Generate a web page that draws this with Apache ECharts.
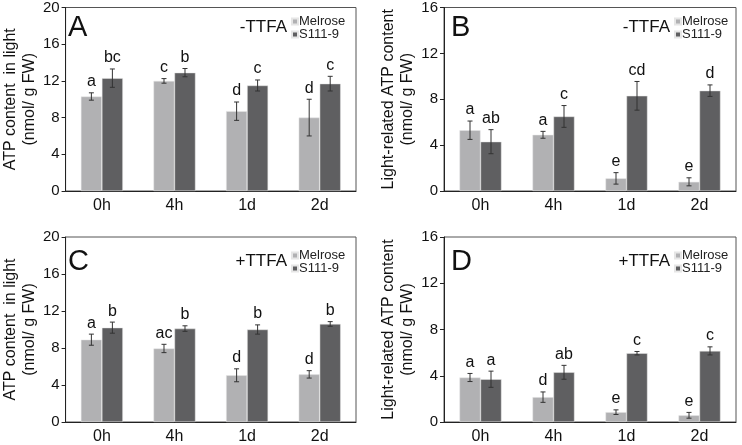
<!DOCTYPE html>
<html>
<head>
<meta charset="utf-8">
<script src="https://cdn.jsdelivr.net/npm/echarts@6/dist/echarts.min.js"></script>
<style>html,body{margin:0;padding:0;background:#fff}#c{width:742px;height:445px}</style>
</head>
<body>
<div id="c"></div>
<script>
const categories = ['0h', '4h', '1d', '2d'];
const seriesNames = ['Melrose', 'S111-9'];

// Panel A: ATP content in light, -TTFA
const aMelrose = [10.3, 12.0, 8.7, 8.0];
const aMelroseErr = [0.4, 0.25, 1.0, 2.0];
const aMelroseLetters = ['a', 'c', 'd', 'd'];
const aS111 = [12.3, 12.9, 11.5, 11.7];
const aS111Err = [1.0, 0.45, 0.6, 0.8];
const aS111Letters = ['bc', 'b', 'c', 'c'];

// Panel B: Light-related ATP content, -TTFA
const bMelrose = [5.3, 4.9, 1.1, 0.8];
const bMelroseErr = [0.8, 0.3, 0.5, 0.35];
const bMelroseLetters = ['a', 'a', 'e', 'e'];
const bS111 = [4.3, 6.5, 8.3, 8.75];
const bS111Err = [1.05, 0.95, 1.25, 0.5];
const bS111Letters = ['ab', 'c', 'cd', 'd'];

// Panel C: ATP content in light, +TTFA
const cMelrose = [8.9, 7.95, 5.05, 5.15];
const cMelroseErr = [0.6, 0.45, 0.7, 0.4];
const cMelroseLetters = ['a', 'ac', 'd', 'd'];
const cS111 = [10.2, 10.1, 10.0, 10.6];
const cS111Err = [0.6, 0.3, 0.5, 0.25];
const cS111Letters = ['b', 'b', 'b', 'b'];

// Panel D: Light-related ATP content, +TTFA
const dMelrose = [3.85, 2.15, 0.85, 0.58];
const dMelroseErr = [0.35, 0.45, 0.2, 0.25];
const dMelroseLetters = ['a', 'd', 'e', 'e'];
const dS111 = [3.7, 4.3, 5.95, 6.15];
const dS111Err = [0.7, 0.6, 0.15, 0.35];
const dS111Letters = ['a', 'ab', 'c', 'c'];

const panels = [
  {letter: 'A', tag: '-TTFA', title: 'ATP content  in light\n(nmol/ g FW)', yMax: 20,
   m: aMelrose, me: aMelroseErr, ml: aMelroseLetters, s: aS111, se: aS111Err, sl: aS111Letters,
   grid: {left: 61, top: 3, width: 295, height: 188}},
  {letter: 'B', tag: '-TTFA', title: 'Light-related ATP content\n(nmol/ g FW)', yMax: 16,
   m: bMelrose, me: bMelroseErr, ml: bMelroseLetters, s: bS111, se: bS111Err, sl: bS111Letters,
   grid: {left: 444, top: 3, width: 292, height: 188}},
  {letter: 'C', tag: '+TTFA', title: 'ATP content  in light\n(nmol/ g FW)', yMax: 20,
   m: cMelrose, me: cMelroseErr, ml: cMelroseLetters, s: cS111, se: cS111Err, sl: cS111Letters,
   grid: {left: 61, top: 237, width: 295, height: 188}},
  {letter: 'D', tag: '+TTFA', title: 'Light-related ATP content\n(nmol/ g FW)', yMax: 16,
   m: dMelrose, me: dMelroseErr, ml: dMelroseLetters, s: dS111, se: dS111Err, sl: dS111Letters,
   grid: {left: 444, top: 237, width: 292, height: 188}}
];

const FONT = 'Liberation Sans, Arial, sans-serif';
const colM = '#b1b1b3';
const colS = '#5f5f61';
const BAR_W = 21;

function errSeries(idx, vals, errs, letters, offset) {
  return {
    type: 'custom', xAxisIndex: idx, yAxisIndex: idx, silent: true, z: 5,
    data: vals.map((v, i) => [i, v, errs[i]]),
    renderItem: function (params, api) {
      const i = api.value(0), v = api.value(1), e = api.value(2);
      const top = api.coord([i, v + e]);
      const bot = api.coord([i, v - e]);
      const x = top[0] + offset;
      const cap = 2.5;
      const st = {stroke: '#333', lineWidth: 1};
      return {
        type: 'group',
        children: [
          {type: 'line', shape: {x1: x, y1: top[1], x2: x, y2: bot[1]}, style: st},
          {type: 'line', shape: {x1: x - cap, y1: top[1], x2: x + cap, y2: top[1]}, style: st},
          {type: 'line', shape: {x1: x - cap, y1: bot[1], x2: x + cap, y2: bot[1]}, style: st},
          {type: 'text', x: x, y: top[1] - 3,
           style: {text: letters[i], fill: '#111', font: '16px ' + FONT, textAlign: 'center', textVerticalAlign: 'bottom'}}
        ]
      };
    }
  };
}

const option = {
  animation: false,
  grid: [], xAxis: [], yAxis: [], series: [], legend: [], graphic: []
};

panels.forEach((p, k) => {
  option.grid.push(Object.assign({show: true, borderColor: '#555', borderWidth: 1, backgroundColor: 'transparent'}, p.grid));
  option.xAxis.push({
    type: 'category', gridIndex: k, data: categories,
    axisLine: {lineStyle: {color: '#222', width: 1}},
    axisTick: {show: false},
    axisLabel: {fontSize: 16, color: '#111', fontFamily: FONT, margin: 7}
  });
  option.yAxis.push({
    type: 'value', gridIndex: k, min: 0, max: p.yMax, interval: 4,
    axisLine: {show: true, lineStyle: {color: '#222', width: 1}},
    axisTick: {show: true, length: 4, lineStyle: {color: '#222'}},
    splitLine: {show: false},
    axisLabel: {fontSize: 15, color: '#111', fontFamily: FONT, margin: 6},
    name: p.title, nameLocation: 'middle', nameGap: 25, nameRotate: 90,
    nameTextStyle: {fontSize: 16, color: '#111', fontFamily: FONT, lineHeight: 19}
  });
  option.series.push({
    name: 'Melrose', type: 'bar', xAxisIndex: k, yAxisIndex: k, data: p.m,
    barWidth: BAR_W, barGap: '0%', itemStyle: {color: colM, borderColor: '#e6e6e6', borderWidth: 0.5}
  });
  option.series.push({
    name: 'S111-9', type: 'bar', xAxisIndex: k, yAxisIndex: k, data: p.s,
    barWidth: BAR_W, barGap: '0%', itemStyle: {color: colS, borderColor: '#e6e6e6', borderWidth: 0.5}
  });
  option.series.push(errSeries(k, p.m, p.me, p.ml, -BAR_W / 2));
  option.series.push(errSeries(k, p.s, p.se, p.sl, BAR_W / 2));
  const g = p.grid;
  option.legend.push({
    data: seriesNames, orient: 'vertical', left: g.left + 230, top: g.top + 12,
    icon: 'rect', itemWidth: 6, itemHeight: 6, itemGap: 0, padding: 0,
    textStyle: {fontSize: 13, color: '#222', fontFamily: FONT, lineHeight: 12, padding: [0, 0, 0, -4]},
    selectedMode: false
  });
  option.graphic.push({
    type: 'text', left: g.left + 7, top: g.top + 10,
    style: {text: p.letter, font: '29px ' + FONT, fill: '#111'}
  });
  option.graphic.push({
    type: 'text', right: 742 - (g.left + 226), top: g.top + 16,
    style: {text: p.tag, font: '17px ' + FONT, fill: '#111'}
  });
});

const chart = echarts.init(document.getElementById('c'), null, {renderer: 'canvas'});
chart.setOption(option);
</script>
</body>
</html>
